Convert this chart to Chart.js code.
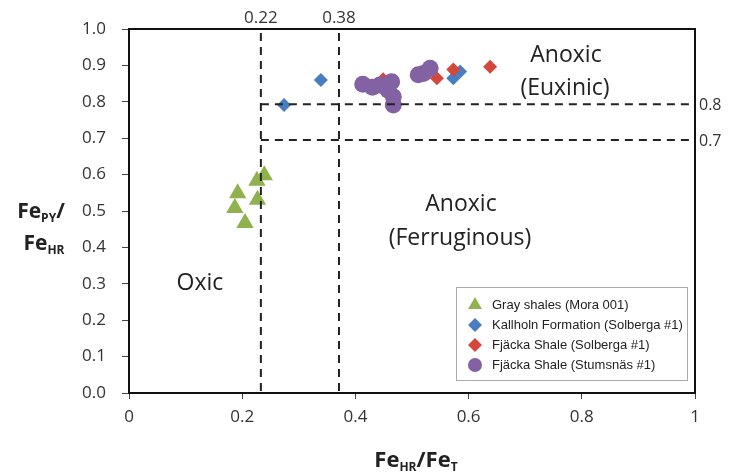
<!DOCTYPE html>
<html>
<head>
<meta charset="utf-8">
<script src="https://cdn.jsdelivr.net/npm/chart.js@4.4.0/dist/chart.umd.min.js"></script>
<style>
  html, body { margin: 0; padding: 0; background: #fff; }
  #wrap { width: 729px; height: 476px; }
</style>
</head>
<body>
<div id="wrap"><canvas id="chart"></canvas></div>
<script>
// Series (FeHR/FeT, FePY/FeHR)
const seriesNames = [
  'Gray shales (Mora 001)',
  'Kallholn Formation (Solberga #1)',
  'Fjäcka Shale (Solberga #1)',
  'Fjäcka Shale (Stumsnäs #1)'
];
const grayX = [0.239, 0.226, 0.192, 0.187, 0.227, 0.205];
const grayY = [0.598, 0.583, 0.549, 0.508, 0.531, 0.467];
const kallX = [0.274, 0.339, 0.573, 0.585];
const kallY = [0.791, 0.860, 0.865, 0.883];
const fjSolX = [0.449, 0.544, 0.573, 0.638];
const fjSolY = [0.862, 0.865, 0.889, 0.896];
const fjStuX = [0.413, 0.430, 0.443, 0.464, 0.458, 0.467, 0.467, 0.511, 0.520, 0.532];
const fjStuY = [0.848, 0.840, 0.846, 0.855, 0.832, 0.814, 0.791, 0.874, 0.878, 0.892];

// Threshold lines
const xThresholds = [0.233, 0.371];
const xThresholdLabels = ['0.22', '0.38'];
const yThresholds = [0.793, 0.695];
const yThresholdLabels = ['0.8', '0.7'];

const xTicks = [0, 0.2, 0.4, 0.6, 0.8, 1];
const yTicks = [0, 0.1, 0.2, 0.3, 0.4, 0.5, 0.6, 0.7, 0.8, 0.9, 1.0];

function toPoints(xs, ys) {
  return xs.map((x, i) => ({ x: x, y: ys[i] }));
}

const colors = ['#8fb24e', '#4a7dbf', '#d4473b', '#8262a3'];
const styles = ['triangle', 'rectRot', 'rectRot', 'circle'];
const radii = [10, 7, 7, 8.5];
const FONT = '"Open Sans"';

function drawMarker(ctx, style, x, y, r, color) {
  ctx.save();
  ctx.fillStyle = color;
  ctx.beginPath();
  if (style === 'triangle') {
    ctx.moveTo(x, y - r);
    ctx.lineTo(x + r * Math.sin(2 * Math.PI / 3), y + r / 2);
    ctx.lineTo(x - r * Math.sin(2 * Math.PI / 3), y + r / 2);
    ctx.closePath();
  } else if (style === 'rectRot') {
    ctx.moveTo(x, y - r);
    ctx.lineTo(x + r, y);
    ctx.lineTo(x, y + r);
    ctx.lineTo(x - r, y);
    ctx.closePath();
  } else {
    ctx.arc(x, y, r, 0, Math.PI * 2);
  }
  ctx.fill();
  ctx.restore();
}

// text with subscript parts: [['Fe', false], ['PY', true]]
function drawRich(ctx, parts, x, y, size, align) {
  const big = 'bold ' + size + 'px ' + FONT;
  const small = 'bold ' + Math.round(size * 0.55) + 'px ' + FONT;
  let total = 0;
  parts.forEach(p => {
    ctx.font = p[1] ? small : big;
    total += ctx.measureText(p[0]).width;
  });
  let cx = align === 'center' ? x - total / 2 : (align === 'right' ? x - total : x);
  ctx.textAlign = 'left';
  ctx.textBaseline = 'alphabetic';
  parts.forEach(p => {
    ctx.font = p[1] ? small : big;
    ctx.fillText(p[0], cx, p[1] ? y + size * 0.2 : y);
    cx += ctx.measureText(p[0]).width;
  });
}

const overlay = {
  id: 'overlay',
  afterDraw(chart) {
    const ctx = chart.ctx;
    const area = chart.chartArea;
    const xs = chart.scales.x;
    const ys = chart.scales.y;

    ctx.save();
    // frame (top and right)
    ctx.strokeStyle = '#111';
    ctx.lineWidth = 2;
    ctx.beginPath();
    ctx.moveTo(area.left, area.top);
    ctx.lineTo(area.right, area.top);
    ctx.lineTo(area.right, area.bottom);
    ctx.stroke();

    // dashed thresholds
    ctx.strokeStyle = '#222';
    ctx.lineWidth = 2;
    ctx.setLineDash([8, 6]);
    xThresholds.forEach(v => {
      const px = xs.getPixelForValue(v);
      ctx.beginPath();
      ctx.moveTo(px, area.top + 4);
      ctx.lineTo(px, area.bottom);
      ctx.stroke();
    });
    const x0 = xs.getPixelForValue(xThresholds[0]);
    yThresholds.forEach(v => {
      const py = ys.getPixelForValue(v);
      ctx.beginPath();
      ctx.moveTo(x0, py);
      ctx.lineTo(area.right - 6, py);
      ctx.stroke();
    });
    ctx.setLineDash([]);

    // threshold labels
    ctx.fillStyle = '#333';
    ctx.font = '17px ' + FONT;
    ctx.textAlign = 'center';
    ctx.textBaseline = 'middle';
    xThresholds.forEach((v, i) => {
      ctx.fillText(xThresholdLabels[i], xs.getPixelForValue(v), area.top - 11);
    });
    ctx.font = '16px ' + FONT;
    ctx.textAlign = 'left';
    yThresholds.forEach((v, i) => {
      ctx.fillText(yThresholdLabels[i], area.right + 4, ys.getPixelForValue(v) + 1);
    });

    // region labels
    ctx.fillStyle = '#222';
    ctx.font = '23px ' + FONT;
    ctx.textAlign = 'center';
    ctx.fillText('Anoxic', 566, 55);
    ctx.fillText('(Euxinic)', 565, 88);
    ctx.fillText('Anoxic', 461, 204);
    ctx.fillText('(Ferruginous)', 460, 238);
    ctx.fillText('Oxic', 200, 283);

    // axis titles
    ctx.fillStyle = '#222';
    drawRich(ctx, [['Fe', false], ['PY', true], ['/', false]], 41, 218, 21, 'center');
    drawRich(ctx, [['Fe', false], ['HR', true]], 44, 250, 21, 'center');
    drawRich(ctx, [['Fe', false], ['HR', true], ['/Fe', false], ['T', true]], 416, 467, 22, 'center');

    // legend
    const lx = 456, ly = 287, lw = 231, lh = 93;
    ctx.fillStyle = '#fff';
    ctx.fillRect(lx, ly, lw, lh);
    ctx.strokeStyle = '#aaa';
    ctx.lineWidth = 1;
    ctx.strokeRect(lx + 0.5, ly + 0.5, lw, lh);
    chart.data.datasets.forEach((ds, i) => {
      const yy = ly + 18 + i * 20;
      drawMarker(ctx, ds.pointStyle, lx + 19, yy, i === 0 ? 8 : 7, ds.backgroundColor);
      ctx.fillStyle = '#222';
      ctx.font = '13px "Liberation Sans"';
      ctx.textAlign = 'left';
      ctx.textBaseline = 'middle';
      ctx.fillText(ds.label, lx + 36, yy);
    });
    ctx.restore();
  }
};

const datasets = [
  toPoints(grayX, grayY),
  toPoints(kallX, kallY),
  toPoints(fjSolX, fjSolY),
  toPoints(fjStuX, fjStuY)
].map((pts, i) => ({
  label: seriesNames[i],
  data: pts,
  pointStyle: styles[i],
  pointRadius: radii[i],
  pointHoverRadius: radii[i],
  backgroundColor: colors[i],
  borderColor: colors[i],
  borderWidth: 0,
  order: 3 - i
}));

new Chart(document.getElementById('chart'), {
  type: 'scatter',
  data: { datasets: datasets },
  options: {
    responsive: true,
    maintainAspectRatio: false,
    animation: false,
    layout: { padding: { top: 29, right: 34, left: 0, bottom: 0 } },
    plugins: {
      legend: { display: false },
      tooltip: { enabled: false }
    },
    scales: {
      x: {
        type: 'linear',
        min: 0,
        max: 1,
        afterBuildTicks: scale => { scale.ticks = xTicks.map(v => ({ value: v })); },
        afterFit: scale => { scale.height = 83; },
        ticks: {
          color: '#333',
          font: { family: 'Open Sans', size: 17 },
          padding: 8,
          callback: v => (v === 0 || v === 1) ? String(v) : v.toFixed(1)
        },
        grid: { drawOnChartArea: false, drawTicks: true, tickLength: 6, color: '#444' },
        border: { display: true, color: '#111', width: 2 }
      },
      y: {
        type: 'linear',
        min: 0,
        max: 1,
        afterBuildTicks: scale => { scale.ticks = yTicks.map(v => ({ value: v })); },
        afterFit: scale => { scale.width = 129; },
        ticks: {
          color: '#333',
          font: { family: 'Open Sans', size: 17 },
          padding: 16,
          callback: v => v.toFixed(1)
        },
        grid: { drawOnChartArea: false, drawTicks: true, tickLength: 7, color: '#444' },
        border: { display: true, color: '#111', width: 2 }
      }
    }
  },
  plugins: [overlay]
});
</script>
</body>
</html>
